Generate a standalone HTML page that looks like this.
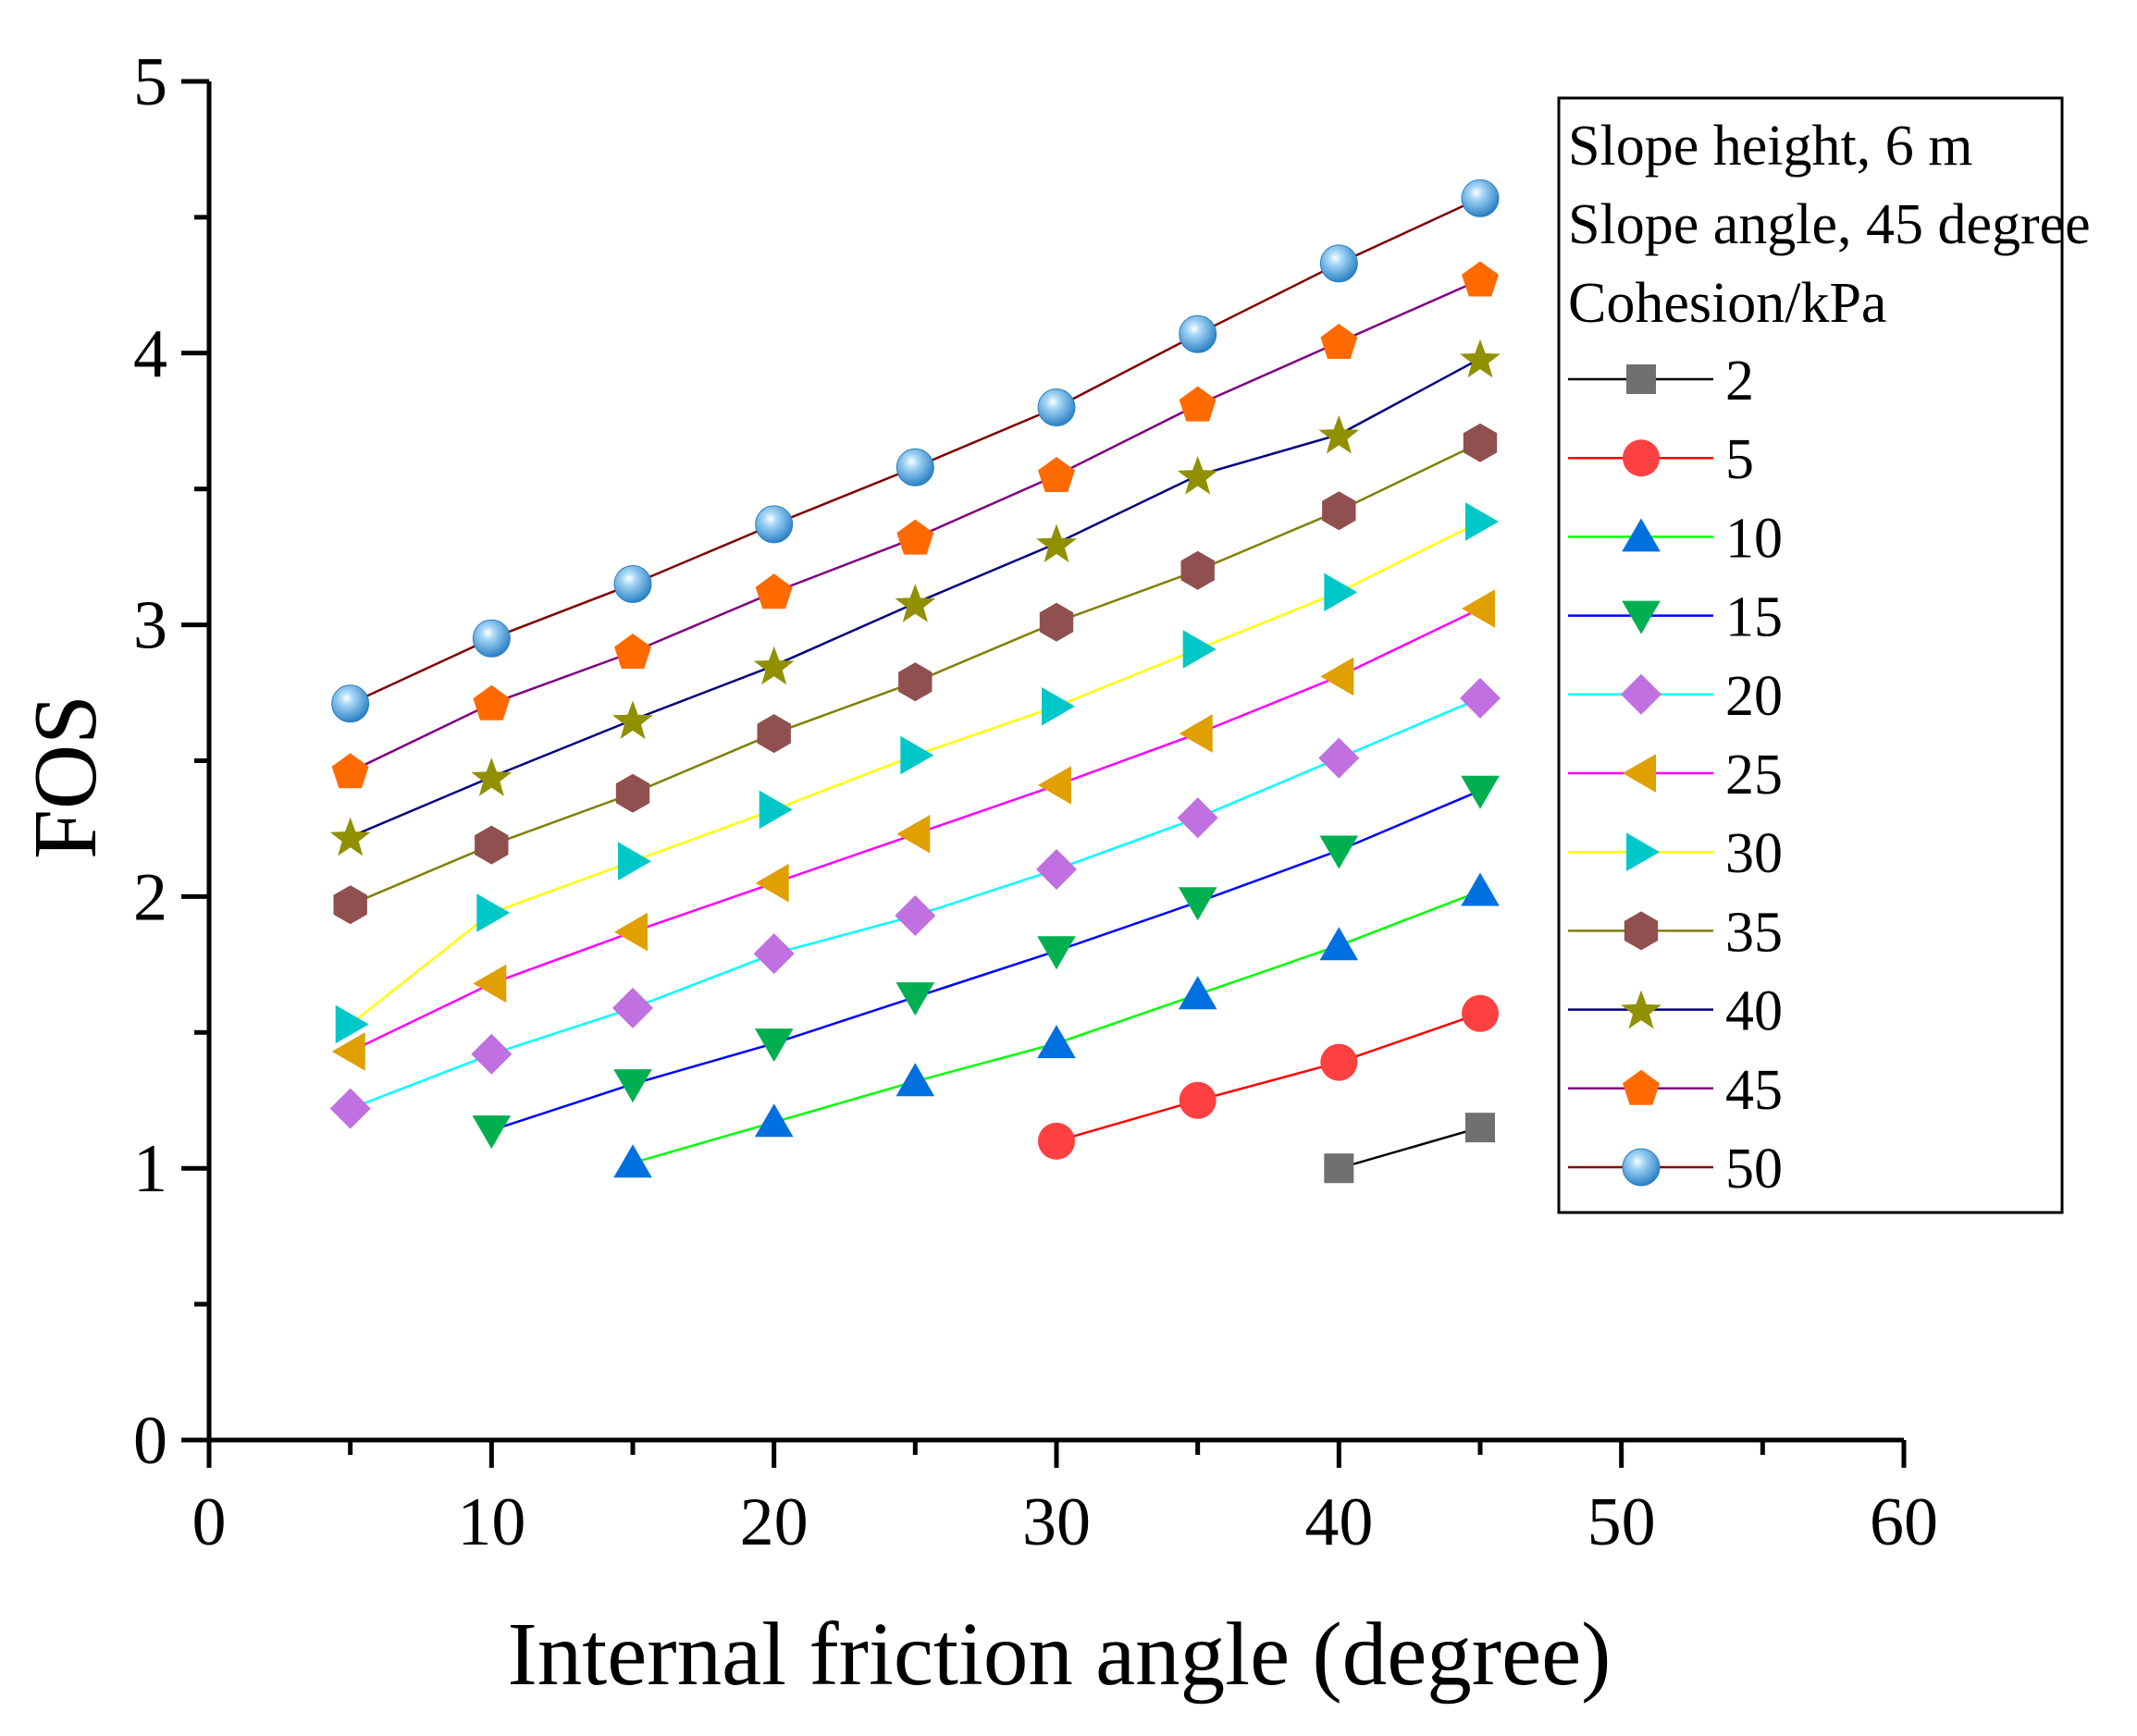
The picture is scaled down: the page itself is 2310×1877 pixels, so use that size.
<!DOCTYPE html>
<html><head><meta charset="utf-8"><style>
html,body{margin:0;padding:0;background:#fff}
svg{display:block;font-family:"Liberation Serif",serif}
</style></head><body>
<svg id="chart" width="2310" height="1877" viewBox="0 0 2310 1877" xmlns="http://www.w3.org/2000/svg">
<defs>
<radialGradient id="sph" cx="0.4" cy="0.35" r="0.7">
<stop offset="0" stop-color="#ffffff"/><stop offset="0.25" stop-color="#a8d8f8"/><stop offset="1" stop-color="#1f78c0"/>
</radialGradient>
</defs>
<g id="plot"></g>
<g id="legend"></g>
</svg>
<script>
const xTicks=[0,10,20,30,40,50,60];
const yTicks=[0,1,2,3,4,5];
const cohesions=["2","5","10","15","20","25","30","35","40","45","50"];
const xs2=[40,45]; const ys2=[1.0,1.15];
const xs5=[30,35,40,45]; const ys5=[1.10,1.25,1.39,1.57];
const xs10=[15,20,25,30,35,40,45]; const ys10=[1.02,1.17,1.32,1.46,1.64,1.82,2.02];
const xs15=[10,15,20,25,30,35,40,45]; const ys15=[1.14,1.31,1.46,1.63,1.80,1.98,2.17,2.39];
const xsAll=[5,10,15,20,25,30,35,40,45];
const ys20=[1.22,1.42,1.59,1.79,1.93,2.10,2.29,2.51,2.73];
const ys25=[1.43,1.68,1.87,2.05,2.23,2.41,2.60,2.81,3.06];
const ys30=[1.53,1.94,2.13,2.32,2.52,2.70,2.91,3.12,3.38];
const ys35=[1.97,2.19,2.38,2.60,2.79,3.01,3.20,3.42,3.67];
const ys40=[2.22,2.44,2.65,2.85,3.08,3.30,3.55,3.70,3.98];
const ys45=[2.46,2.71,2.90,3.12,3.32,3.55,3.81,4.04,4.27];
const ys50=[2.71,2.95,3.15,3.37,3.58,3.80,4.07,4.33,4.57];

const series=[
 {x:xs2,y:ys2,line:"#000000",fill:"#707070",m:"square"},
 {x:xs5,y:ys5,line:"#ff0000",fill:"#ff4040",m:"circle"},
 {x:xs10,y:ys10,line:"#00ff00",fill:"#0070e0",m:"up"},
 {x:xs15,y:ys15,line:"#0000ff",fill:"#00b050",m:"down"},
 {x:xsAll,y:ys20,line:"#00ffff",fill:"#c070e0",m:"diamond"},
 {x:xsAll,y:ys25,line:"#ff00ff",fill:"#e0a000",m:"left"},
 {x:xsAll,y:ys30,line:"#ffff00",fill:"#00c8c8",m:"right"},
 {x:xsAll,y:ys35,line:"#808000",fill:"#905050",m:"hex"},
 {x:xsAll,y:ys40,line:"#000080",fill:"#909000",m:"star"},
 {x:xsAll,y:ys45,line:"#800080",fill:"#ff6a00",m:"pent"},
 {x:xsAll,y:ys50,line:"#800000",fill:"url(#sph)",m:"sphere"}
];
const X0=226,X1=2058,Y0=1557,Y1=88;
const sx=v=>X0+(v-0)/(60-0)*(X1-X0);
const sy=v=>Y0-(v-0)/(5-0)*(Y0-Y1);
const NS="http://www.w3.org/2000/svg";
function el(tag,attrs,parent){const e=document.createElementNS(NS,tag);for(const k in attrs)e.setAttribute(k,attrs[k]);parent.appendChild(e);return e;}
const plot=document.getElementById('plot');
const leg=document.getElementById('legend');

function poly(cx,cy,r,n,rot){let p=[];for(let i=0;i<n;i++){const a=rot+i*2*Math.PI/n;p.push((cx+r*Math.cos(a)).toFixed(1)+","+(cy+r*Math.sin(a)).toFixed(1));}return p.join(" ");}
function marker(type,cx,cy,fill,parent){
 let e;
 if(type==="square")e=el('rect',{x:cx-16,y:cy-16,width:32,height:32,fill:fill},parent);
 else if(type==="circle")e=el('circle',{cx:cx,cy:cy,r:20,fill:fill},parent);
 else if(type==="sphere")e=el('circle',{cx:cx,cy:cy,r:20,fill:fill,stroke:"#2a80c0","stroke-width":1},parent);
 else if(type==="up")e=el('polygon',{points:poly(cx,cy+4,24,3,-Math.PI/2),fill:fill},parent);
 else if(type==="down")e=el('polygon',{points:poly(cx,cy-4,24,3,Math.PI/2),fill:fill},parent);
 else if(type==="left")e=el('polygon',{points:poly(cx+4,cy,24,3,Math.PI),fill:fill},parent);
 else if(type==="right")e=el('polygon',{points:poly(cx-4,cy,24,3,0),fill:fill},parent);
 else if(type==="diamond")e=el('polygon',{points:poly(cx,cy,22,4,0),fill:fill},parent);
 else if(type==="hex")e=el('polygon',{points:poly(cx,cy,21,6,Math.PI/6),fill:fill},parent);
 else if(type==="pent")e=el('polygon',{points:poly(cx,cy+1,21,5,-Math.PI/2),fill:fill},parent);
 else if(type==="star"){let p=[];for(let i=0;i<10;i++){const a=-Math.PI/2+i*Math.PI/5;const r=i%2?9.5:23;p.push((cx+r*Math.cos(a)).toFixed(1)+","+(cy+2+r*Math.sin(a)).toFixed(1));}e=el('polygon',{points:p.join(" "),fill:fill},parent);}
 return e;
}

series.forEach((s,i)=>{
 const g=el('g',{},plot);
 
 
 const pts=s.x.map((v,j)=>sx(v).toFixed(1)+","+sy(s.y[j]).toFixed(1)).join(" ");
 const l=el('polyline',{points:pts,fill:"none",stroke:s.line,"stroke-width":2.5},g);
 
 
 s.x.forEach((v,j)=>{
  const m=marker(s.m,sx(v),sy(s.y[j]),s.fill,g);
  
  
 });
});

const ax=el('g',{stroke:"#000","stroke-width":5,fill:"none"},plot);


el('line',{x1:X0,y1:Y0+30,x2:X0,y2:Y1},ax);
el('line',{x1:X0-30,y1:Y0,x2:X1,y2:Y0},ax);
for(let v=5;v<=60;v+=5){el('line',{x1:sx(v),y1:Y0,x2:sx(v),y2:Y0+(v%10===0?30:16)},ax);}
for(let v=0.5;v<=5;v+=0.5){el('line',{x1:X0,y1:sy(v),x2:X0-(Math.abs(v-Math.round(v))<0.01?30:16),y2:sy(v)},ax);}
xTicks.forEach(v=>{const t=el('text',{x:sx(v),y:Y0+113,"font-size":74,"text-anchor":"middle",fill:"#000"},plot);t.textContent=v;
 });
yTicks.forEach(v=>{const t=el('text',{x:X0-45,y:sy(v)+25,"font-size":74,"text-anchor":"end",fill:"#000"},plot);t.textContent=v;
 });
const xt=el('text',{x:1145,y:1821,"font-size":97,"text-anchor":"middle",fill:"#000"},plot);xt.textContent="Internal friction angle (degree)";

const yt=el('text',{x:0,y:0,"font-size":97,"text-anchor":"middle",fill:"#000",transform:"translate(103,840) rotate(-90)"},plot);yt.textContent="FOS";


const box=el('rect',{x:1685,y:106,width:544,height:1205,fill:"#fff",stroke:"#000","stroke-width":3},leg);

["Slope height, 6 m","Slope angle, 45 degree","Cohesion/kPa"].forEach((s,i)=>{
 const t=el('text',{x:1695,y:178+i*85,"font-size":62,fill:"#000"},leg);t.textContent=s;
 
});
series.forEach((s,i)=>{
 const cy=410+i*85.2;
 const g=el('g',{},leg);
 
 
 el('line',{x1:1695,y1:cy,x2:1852,y2:cy,stroke:s.line,"stroke-width":2.5},g);
 marker(s.m,1774,cy,s.fill,g);
 const t=el('text',{x:1865,y:cy+22,"font-size":62,fill:"#000"},g);t.textContent=cohesions[i];
});
</script>
</body></html>
